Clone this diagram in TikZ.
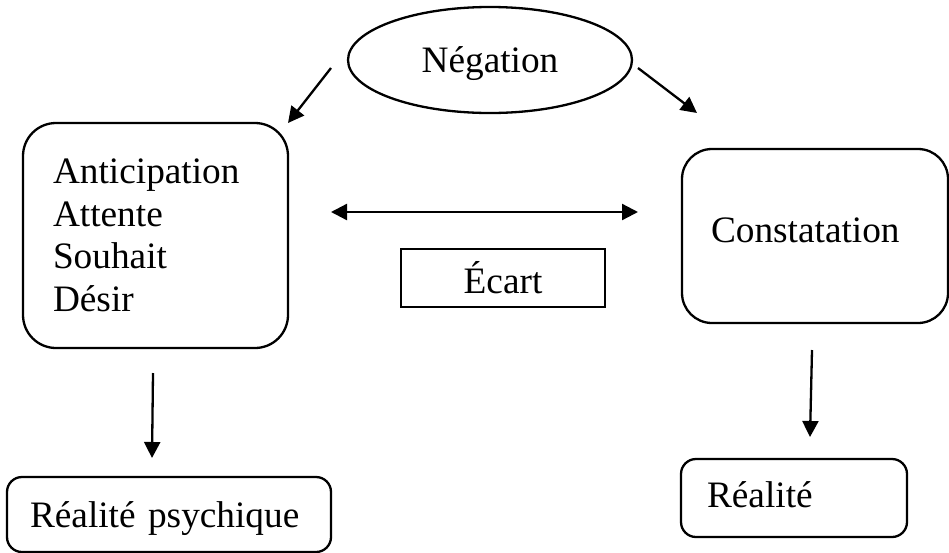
\documentclass[tikz,border=0pt]{standalone}
\usepackage{fontspec}
\setmainfont{Liberation Serif}
\usetikzlibrary{arrows.meta,shapes.geometric}
\begin{document}
\begin{tikzpicture}[x=1pt,y=-1pt,line width=2.3pt,
  every node/.style={font=\fontsize{37.3}{42.5}\selectfont},
  bigbox/.style={draw,rectangle,rounded corners=#1,inner ysep=0pt,align=left},
  arr/.style={-{Triangle[length=16pt,width=16pt]}},
  darr/.style={{Triangle[length=16pt,width=16pt]}-{Triangle[length=16pt,width=16pt]}}]
\useasboundingbox (0,0) rectangle (949,552);
\node[draw,ellipse,minimum width=284pt,minimum height=106pt,inner sep=0pt,text height=24pt,text depth=0pt] (neg) at (490,60) {Négation};
\node[bigbox=33pt,inner xsep=30pt,text width=205pt,minimum height=225pt] (ant) at (155.5,235.5) {Anticipation\\Attente\\Souhait\\Désir};
\node[bigbox=30pt,inner xsep=29pt,text width=208pt,minimum height=174pt,text height=12pt,text depth=0pt] (con) at (815,236) {Constatation};
\node[draw,rectangle,minimum width=204pt,minimum height=58pt,inner sep=0pt,text height=30pt,text depth=0pt] (ecart) at (503,278) {Écart};
\node[bigbox=15pt,inner xsep=23pt,text width=278pt,minimum height=75pt,text height=25pt,text depth=0pt] (psy) at (169,514.5) {Réalité psychique};
\node[bigbox=15pt,inner xsep=26pt,text width=174pt,minimum height=78pt,text height=18pt,text depth=0pt] (real) at (794,498) {Réalité};
\coordinate (n1s) at (331,68);
\coordinate (n1e) at (288,123);
\coordinate (n2s) at (638,68);
\coordinate (n2e) at (697,113);
\coordinate (hl) at (331,212);
\coordinate (hr) at (638,212);
\coordinate (d1s) at (153,373);
\coordinate (d1e) at (152,458);
\coordinate (d2s) at (812,350);
\coordinate (d2e) at (810,437);
\draw[arr] (n1s) -- (n1e);
\draw[arr] (n2s) -- (n2e);
\draw[darr] (hl) -- (hr);
\draw[arr] (d1s) -- (d1e);
\draw[arr] (d2s) -- (d2e);
\end{tikzpicture}
\end{document}
